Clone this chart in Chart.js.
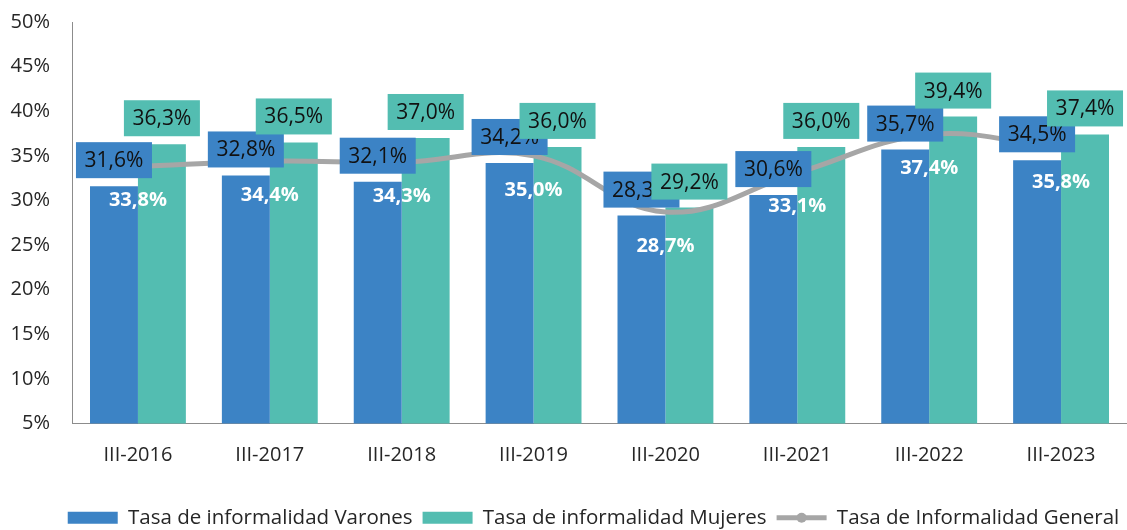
<!DOCTYPE html>
<html>
<head>
<meta charset="utf-8">
<script src="https://cdn.jsdelivr.net/npm/chart.js@4"></script>
<style>
  html, body { margin: 0; padding: 0; background: #fff; }
  #wrap { width: 1127px; height: 530px; }
</style>
</head>
<body>
<div id="wrap"><canvas id="myChart"></canvas></div>
<script>
var periods = ['III-2016', 'III-2017', 'III-2018', 'III-2019', 'III-2020', 'III-2021', 'III-2022', 'III-2023'];
var varones = [31.6, 32.8, 32.1, 34.2, 28.3, 30.6, 35.7, 34.5];
var mujeres = [36.3, 36.5, 37.0, 36.0, 29.2, 36.0, 39.4, 37.4];
var general = [33.8, 34.4, 34.3, 35.0, 28.7, 33.1, 37.4, 35.8];

var blue = '#3C83C5';
var teal = '#53BDB1';
var gray = '#A6A6A6';
var font = '"Open Sans", "DejaVu Sans", sans-serif';

function fmt(v) {
    return v.toFixed(1).replace('.', ',') + '%';
}

// value labels drawn like the excel boxes
var labelPlugin = {
    id: 'valueLabels',
    afterUpdate: function(chart) {
        // excel centres the legend under the plot, a bit right of the canvas centre
        var lg = chart.legend;
        lg.left += 30;
        lg.right += 30;
        lg.legendHitBoxes.forEach(function(hb) { hb.left += 30; });
    },
    afterDatasetsDraw: function(chart) {
        var ctx = chart.ctx;
        ctx.save();
        ctx.textAlign = 'center';
        ctx.textBaseline = 'middle';
        ctx.font = '21px ' + font;
        [0, 1].forEach(function(di) {
            var ds = chart.data.datasets[di];
            chart.getDatasetMeta(di).data.forEach(function(bar, i) {
                var cy = bar.y - 26;
                ctx.fillStyle = ds.backgroundColor;
                ctx.fillRect(bar.x - 38, cy - 18, 76, 36);
                ctx.fillStyle = '#111111';
                ctx.fillText(fmt(ds.data[i]), bar.x, cy + 1);
            });
        });
        ctx.font = 'bold 20px ' + font;
        ctx.fillStyle = '#ffffff';
        chart.getDatasetMeta(2).data.forEach(function(pt, i) {
            ctx.fillText(fmt(general[i]), pt.x, pt.y + 34);
        });
        ctx.restore();
    },
    afterDraw: function(chart) {
        // marker dot on the line legend symbol
        var items = chart.legend.legendItems;
        var boxes = chart.legend.legendHitBoxes;
        for (var i = 0; i < items.length; i++) {
            if (items[i].datasetIndex == 2) {
                var hb = boxes[i];
                var ctx = chart.ctx;
                ctx.save();
                ctx.fillStyle = gray;
                ctx.beginPath();
                ctx.arc(hb.left + 25, hb.top + hb.height / 2, 5, 0, Math.PI * 2);
                ctx.fill();
                ctx.restore();
            }
        }
    }
};

new Chart('myChart', {
    type: 'bar',
    data: {
        labels: periods,
        datasets: [{
            label: 'Tasa de informalidad Varones',
            data: varones,
            backgroundColor: blue,
            borderWidth: 0,
            pointStyle: 'rect',
            order: 1
        }, {
            label: 'Tasa de informalidad Mujeres',
            data: mujeres,
            backgroundColor: teal,
            borderWidth: 0,
            pointStyle: 'rect',
            order: 1
        }, {
            type: 'line',
            label: 'Tasa de Informalidad General',
            data: general,
            borderColor: gray,
            backgroundColor: gray,
            borderWidth: 5,
            tension: 0.4,
            pointRadius: 0,
            pointStyle: 'line',
            fill: false,
            order: 0
        }]
    },
    options: {
        responsive: true,
        maintainAspectRatio: false,
        animation: false,
        layout: { padding: { top: 22, right: 0, left: 0, bottom: -8 } },
        datasets: {
            bar: { categoryPercentage: 0.727, barPercentage: 1.0 }
        },
        plugins: {
            tooltip: { enabled: false },
            legend: {
                position: 'bottom',
                labels: {
                    usePointStyle: true,
                    pointStyleWidth: 50,
                    boxHeight: 12,
                    padding: 10,
                    color: '#262626',
                    font: { family: font, size: 20.5 },
                    sort: function(a, b) { return a.datasetIndex - b.datasetIndex; }
                }
            }
        },
        scales: {
            x: {
                grid: { display: false, drawTicks: true, tickLength: 20 },
                border: { display: true, color: '#8c8c8c', width: 1 },
                ticks: { color: '#262626', padding: 0, font: { family: font, size: 20 } },
                afterFit: function(scale) { scale.height += 30; }
            },
            y: {
                min: 5,
                max: 50,
                grid: { display: false, drawTicks: true, tickLength: 22 },
                border: { display: true, color: '#8c8c8c', width: 1 },
                ticks: {
                    stepSize: 5,
                    color: '#262626',
                    padding: 0,
                    font: { family: font, size: 20 },
                    callback: function(v) { return v + '%'; }
                },
                afterFit: function(scale) { scale.width = 72; }
            }
        }
    },
    plugins: [labelPlugin]
});
</script>
</body>
</html>
